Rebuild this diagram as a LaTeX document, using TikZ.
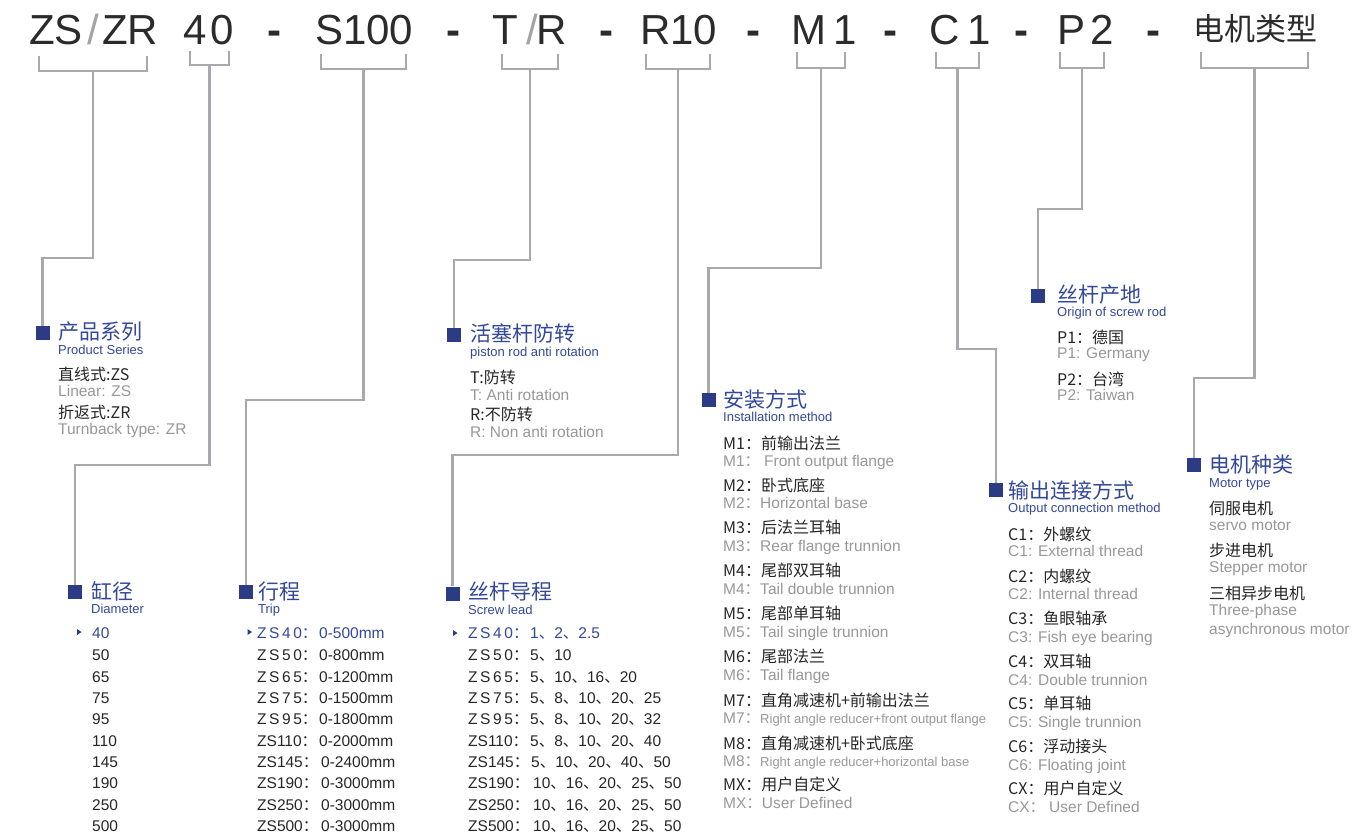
\documentclass[tikz,border=0pt]{standalone}
\usepackage{fontspec}
\setmainfont{Liberation Sans}
\newfontfamily\cjk{Noto Sans CJK SC}
\newcommand\fz[1]{\fontsize{#1}{#1}\selectfont}
\newcommand\zpre[2]{\makebox[#1][l]{#2{\cjk ：}}}
\newcommand\dunh{{\cjk 、}}
\newcommand\fwc{{\cjk ：}}
\definecolor{hdc}{HTML}{2B2B2B}
\definecolor{slc}{HTML}{A3A3A3}
\definecolor{ttlc}{HTML}{34489A}
\definecolor{sqc}{HTML}{2B3C84}
\definecolor{blk}{HTML}{262626}
\definecolor{gry}{HTML}{989898}
\definecolor{lnc}{HTML}{A8A9AD}
\tikzset{
  hd/.style={inner sep=0pt, anchor=base west, text=hdc, font=\fz{42}, yshift=-15pt},
  hdg/.style={hd, text=slc},
  hdash/.style={hd, font=\fz{42}\bfseries},
  hdcn/.style={inner sep=0pt, anchor=base west, text=hdc, font=\cjk\fz{31}, yshift=-11.8pt},
  ttl/.style={inner sep=0pt, anchor=base west, text=ttlc, font=\cjk\fz{21}, yshift=-8pt},
  sub/.style={inner sep=0pt, anchor=base west, text=ttlc, font=\fz{13}, yshift=-4.7pt},
  cn/.style={inner sep=0pt, anchor=base west, text=blk, font=\cjk\fz{16}, yshift=-6pt},
  en/.style={inner sep=0pt, anchor=base west, text=gry, font=\fz{15.5}, yshift=-5.6pt},
  li/.style={inner sep=0pt, anchor=base west, text=blk, font=\fz{15.5}, yshift=-5.6pt},
  sel/.style={li, text=ttlc},
  sq/.style={fill=sqc, minimum size=14pt, inner sep=0pt, draw=none},
  ln/.style={draw=lnc, line width=2.6pt},
}
\begin{document}
\begin{tikzpicture}[x=1pt,y=-1pt]
\useasboundingbox (0,0) rectangle (1361,835);
\fill[white] (0,0) rectangle (1361,835);

% ---------- header code ----------
\node[hd]  (hZS) at (29,30) {ZS};
\node[hdg] (hsl1) at (87,30) {/};
\node[hd]  (hZR) at (102,30) {ZR};
\node[hd]  (h4) at (183,30) {4};
\node[hd]  (h0) at (210,30) {0};
\node[hdash]  (hm1) at (267,30) {-};
\node[hd]  (hS) at (315,30) {S100};
\node[hdash]  (hm2) at (446,30) {-};
\node[hd]  (hT) at (492,30) {T};
\node[hdg] (hsl2) at (526,30) {/};
\node[hd]  (hR) at (536,30) {R};
\node[hdash]  (hm3) at (599,30) {-};
\node[hd]  (hR10) at (640,30) {R10};
\node[hdash]  (hm4) at (746,30) {-};
\node[hd]  (hM) at (791,30) {M};
\node[hd]  (hM1) at (833,30) {1};
\node[hdash]  (hm5) at (883,30) {-};
\node[hd]  (hC) at (929,30) {C};
\node[hd]  (hC1) at (967,30) {1};
\node[hdash]  (hm6) at (1014,30) {-};
\node[hd]  (hP) at (1057,30) {P};
\node[hd]  (hP2) at (1090,30) {2};
\node[hdash]  (hm7) at (1146,30) {-};
\node[hdcn] (hMT) at (1193,29) {电机类型};

% ---------- brackets ----------
\foreach \n/\l/\r/\t/\b in {1/39/147/56/71, 2/190/229/51/65, 3/321/406/54/69, 4/502/558/54/69, 5/646/710/54/69, 6/797/845/52/68, 7/936/979/52/68, 8/1060/1104/52/68, 9/1201/1308/52/68}{
  \coordinate (b\n l) at (\l,\t);
  \coordinate (b\n r) at (\r,\t);
  \coordinate (b\n s) at ({(\l+\r)/2},\b);
  \draw[ln] (b\n l) -- (b\n l |- b\n s) -- (b\n r |- b\n s) -- (b\n r);
}

% ---------- squares ----------
\node[sq] (q1) at (42.5,333) {};
\node[sq] (q2) at (75,592) {};
\node[sq] (q3) at (246,592) {};
\node[sq] (q4) at (454,335) {};
\node[sq] (q5) at (452.5,593.5) {};
\node[sq] (q6) at (708.5,400) {};
\node[sq] (q7) at (996,490) {};
\node[sq] (q8) at (1038,296) {};
\node[sq] (q9) at (1194,465) {};

% ---------- connectors ----------
\foreach \n/\ty in {1/258, 2/465, 3/400, 4/260, 5/455, 6/268, 7/349, 8/209, 9/378}{
  \coordinate (t\n) at (0,\ty);
  \draw[ln] (b\n s) -- (b\n s |- t\n) -| (q\n.north);
}

% ---------- group 1: product series ----------
\node[ttl] (g1t) at (58,331) {产品系列};
\node[sub] (g1s) at (58,350) {Product Series};
\node[cn]  (g1a) at (58,374) {直线式:ZS};
\node[en]  (g1b) at (58,391) {Linear: ZS};
\node[cn]  (g1c) at (58,412) {折返式:ZR};
\node[en]  (g1d) at (58,429) {Turnback type: ZR};

% ---------- group 2: diameter ----------
\node[ttl] (g2t) at (91,591) {缸径};
\node[sub] (g2s) at (91,609) {Diameter};
\fill[sqc] (77,629) -- (81.5,632) -- (77,635) -- cycle;
\node[sel] (d1) at (92,633) {40};
\node[li] (d2) at (92,655) {50};
\node[li] (d3) at (92,677) {65};
\node[li] (d4) at (92,698) {75};
\node[li] (d5) at (92,719) {95};
\node[li] (d6) at (92,741) {110};
\node[li] (d7) at (92,762) {145};
\node[li] (d8) at (92,783) {190};
\node[li] (d9) at (92,805) {250};
\node[li] (d10) at (92,826) {500};

% ---------- group 3: trip ----------
\node[ttl] (g3t) at (258,591) {行程};
\node[sub] (g3s) at (258,609) {Trip};
\fill[sqc] (247.5,629) -- (252,632) -- (247.5,635) -- cycle;
\node[sel] (tr1) at (257,633) {\zpre{62pt}{Z\,S\,4\,0}0-500mm};
\node[li] (tr2) at (257,655) {\zpre{62pt}{Z\,S\,5\,0}0-800mm};
\node[li] (tr3) at (257,677) {\zpre{62pt}{Z\,S\,6\,5}0-1200mm};
\node[li] (tr4) at (257,698) {\zpre{62pt}{Z\,S\,7\,5}0-1500mm};
\node[li] (tr5) at (257,719) {\zpre{62pt}{Z\,S\,9\,5}0-1800mm};
\node[li] (tr6) at (257,741) {\zpre{62pt}{ZS110}0-2000mm};
\node[li] (tr7) at (257,762) {\zpre{64pt}{ZS145}0-2400mm};
\node[li] (tr8) at (257,783) {\zpre{64pt}{ZS190}0-3000mm};
\node[li] (tr9) at (257,805) {\zpre{64pt}{ZS250}0-3000mm};
\node[li] (tr10) at (257,826) {\zpre{64pt}{ZS500}0-3000mm};

% ---------- group 4: anti rotation ----------
\node[ttl] (g4t) at (470,333) {活塞杆防转};
\node[sub] (g4s) at (470,352) {piston rod anti rotation};
\node[cn]  (g4a) at (470,377) {T:防转};
\node[en]  (g4b) at (470,395) {T: Anti rotation};
\node[cn]  (g4c) at (470,414) {R:不防转};
\node[en]  (g4d) at (470,432) {R: Non anti rotation};

% ---------- group 5: screw lead ----------
\node[ttl] (g5t) at (468,591) {丝杆导程};
\node[sub] (g5s) at (468,610) {Screw lead};
\fill[sqc] (453,630) -- (457.5,633) -- (453,636) -- cycle;
\node[sel] (sl1) at (468,633) {\zpre{62pt}{Z\,S\,4\,0}1\dunh 2\dunh 2.5};
\node[li] (sl2) at (468,655) {\zpre{62pt}{Z\,S\,5\,0}5\dunh 10};
\node[li] (sl3) at (468,677) {\zpre{62pt}{Z\,S\,6\,5}5\dunh 10\dunh 16\dunh 20};
\node[li] (sl4) at (468,698) {\zpre{62pt}{Z\,S\,7\,5}5\dunh 8\dunh 10\dunh 20\dunh 25};
\node[li] (sl5) at (468,719) {\zpre{62pt}{Z\,S\,9\,5}5\dunh 8\dunh 10\dunh 20\dunh 32};
\node[li] (sl6) at (468,741) {\zpre{62pt}{ZS110}5\dunh 8\dunh 10\dunh 20\dunh 40};
\node[li] (sl7) at (468,762) {\zpre{63pt}{ZS145}5\dunh 10\dunh 20\dunh 40\dunh 50};
\node[li] (sl8) at (468,783) {\zpre{65pt}{ZS190}10\dunh 16\dunh 20\dunh 25\dunh 50};
\node[li] (sl9) at (468,805) {\zpre{65pt}{ZS250}10\dunh 16\dunh 20\dunh 25\dunh 50};
\node[li] (sl10) at (468,826) {\zpre{65pt}{ZS500}10\dunh 16\dunh 20\dunh 25\dunh 50};

% ---------- group 6: installation method ----------
\node[ttl] (g6t) at (723,399) {安装方式};
\node[sub] (g6s) at (723,417) {Installation method};
\node[cn] (m1c) at (723,443) {M1：前输出法兰};
\node[en] (m1e) at (723,461) {M1\fwc\hspace{4pt}Front output flange};
\node[cn] (m2c) at (723,485) {M2：卧式底座};
\node[en] (m2e) at (723,503) {M2\fwc Horizontal base};
\node[cn] (m3c) at (723,527) {M3：后法兰耳轴};
\node[en] (m3e) at (723,546) {M3\fwc Rear flange trunnion};
\node[cn] (m4c) at (723,570) {M4：尾部双耳轴};
\node[en] (m4e) at (723,589) {M4\fwc Tail double trunnion};
\node[cn] (m5c) at (723,613) {M5：尾部单耳轴};
\node[en] (m5e) at (723,632) {M5\fwc Tail single trunnion};
\node[cn] (m6c) at (723,656) {M6：尾部法兰};
\node[en] (m6e) at (723,675) {M6\fwc Tail flange};
\node[cn] (m7c) at (723,700) {M7：直角减速机+前输出法兰};
\node[en] (m7e) at (723,718) {M7\fwc{\fz{13}Right angle reducer+front output flange}};
\node[cn] (m8c) at (723,743) {M8：直角减速机+卧式底座};
\node[en] (m8e) at (723,761) {M8\fwc{\fz{13}Right angle reducer+horizontal base}};
\node[cn] (mxc) at (723,784) {MX：用户自定义};
\node[en] (mxe) at (723,803) {MX\fwc User Defined};

% ---------- group 7: output connection ----------
\node[ttl] (g7t) at (1008,490) {输出连接方式};
\node[sub] (g7s) at (1008,508) {Output connection method};
\node[cn] (c1c) at (1008,534) {C1：外螺纹};
\node[en] (c1e) at (1008,551) {C1: External thread};
\node[cn] (c2c) at (1008,576) {C2：内螺纹};
\node[en] (c2e) at (1008,594) {C2: Internal thread};
\node[cn] (c3c) at (1008,618) {C3：鱼眼轴承};
\node[en] (c3e) at (1008,637) {C3: Fish eye bearing};
\node[cn] (c4c) at (1008,661) {C4：双耳轴};
\node[en] (c4e) at (1008,680) {C4: Double trunnion};
\node[cn] (c5c) at (1008,703) {C5：单耳轴};
\node[en] (c5e) at (1008,722) {C5: Single trunnion};
\node[cn] (c6c) at (1008,746) {C6：浮动接头};
\node[en] (c6e) at (1008,765) {C6: Floating joint};
\node[cn] (cxc) at (1008,788) {CX：用户自定义};
\node[en] (cxe) at (1008,807) {CX\fwc\hspace{4pt}User Defined};

% ---------- group 8: screw origin ----------
\node[ttl] (g8t) at (1057,294) {丝杆产地};
\node[sub] (g8s) at (1057,312) {Origin of screw rod};
\node[cn] (p1c) at (1057,337) {P1：德国};
\node[en] (p1e) at (1057,353) {P1: Germany};
\node[cn] (p2c) at (1057,379) {P2：台湾};
\node[en] (p2e) at (1057,395) {P2: Taiwan};

% ---------- group 9: motor type ----------
\node[ttl] (g9t) at (1209,464) {电机种类};
\node[sub] (g9s) at (1209,483) {Motor type};
\node[cn] (mt1c) at (1209,508) {伺服电机};
\node[en] (mt1e) at (1209,525) {servo motor};
\node[cn] (mt2c) at (1209,550) {步进电机};
\node[en] (mt2e) at (1209,567) {Stepper motor};
\node[cn] (mt3c) at (1209,593) {三相异步电机};
\node[en] (mt3e) at (1209,610) {Three-phase};
\node[en] (mt3f) at (1209,629) {asynchronous motor};
\end{tikzpicture}
\end{document}
